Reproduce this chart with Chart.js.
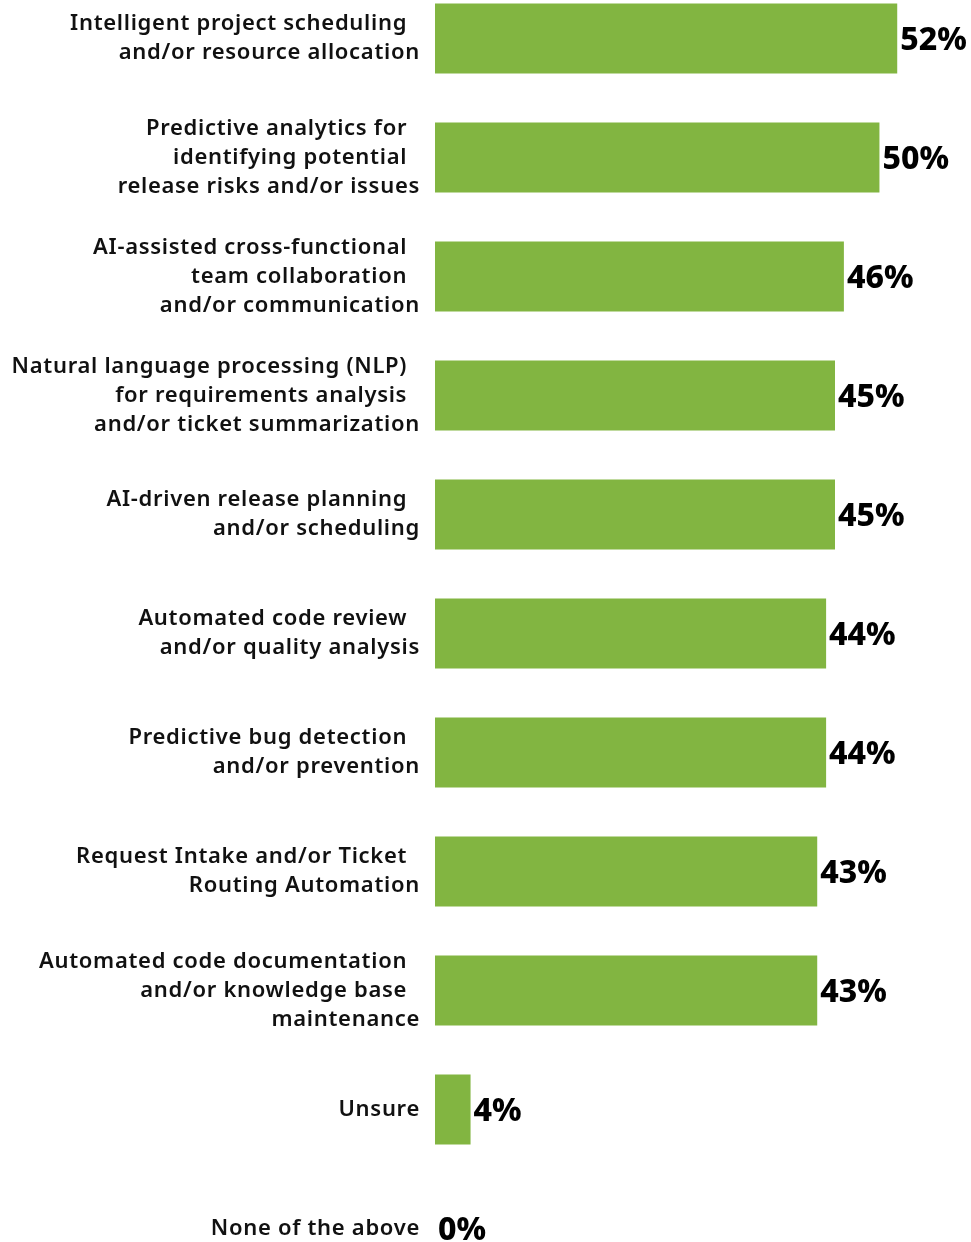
<!DOCTYPE html>
<html>
<head>
<meta charset="utf-8">
<script src="https://cdn.jsdelivr.net/npm/chart.js@4"></script>
<style>
  html, body { margin: 0; padding: 0; background: #fff; overflow: hidden; }
  body { width: 971px; height: 1242px; position: relative; }
  .chart-wrap { position: absolute; left: 0; top: -21px; width: 971px; height: 1309px; }
</style>
</head>
<body>
<div class="chart-wrap"><canvas id="chart"></canvas></div>
<script>
// labels: every line but the last carries trailing spaces, like the source layout
const categories = [
  ["Intelligent project scheduling  ", "and/or resource allocation"],
  ["Predictive analytics for  ", "identifying potential  ", "release risks and/or issues"],
  ["AI-assisted cross-functional  ", "team collaboration  ", "and/or communication"],
  ["Natural language processing (NLP)  ", "for requirements analysis  ", "and/or ticket summarization"],
  ["AI-driven release planning  ", "and/or scheduling"],
  ["Automated code review  ", "and/or quality analysis"],
  ["Predictive bug detection  ", "and/or prevention"],
  ["Request Intake and/or Ticket  ", "Routing Automation"],
  ["Automated code documentation  ", "and/or knowledge base  ", "maintenance"],
  "Unsure",
  "None of the above",
];
const values = [52, 50, 46, 45, 45, 44, 44, 43, 43, 4, 0];
const xMax = 60.3;

const green = "#82b541";
const fontFamily = "'Noto Sans', sans-serif";

const spacing = {
  id: "spacing",
  beforeDraw(chart) { chart.ctx.letterSpacing = "0.7px"; },
};

const valueLabels = {
  id: "valueLabels",
  afterDatasetsDraw(chart) {
    const ctx = chart.ctx;
    const meta = chart.getDatasetMeta(0);
    ctx.save();
    ctx.letterSpacing = "0px";
    ctx.fillStyle = "#000";
    ctx.font = `800 32px ${fontFamily}`;
    ctx.textAlign = "left";
    ctx.textBaseline = "middle";
    meta.data.forEach((bar, i) => {
      ctx.fillText(values[i] + "%", bar.x + 3, bar.y + 2);
    });
    ctx.restore();
  },
};

new Chart(document.getElementById("chart"), {
  type: "bar",
  data: {
    labels: categories,
    datasets: [{
      data: values,
      backgroundColor: green,
      borderWidth: 0,
      categoryPercentage: 0.59,
      barPercentage: 1,
    }],
  },
  options: {
    indexAxis: "y",
    responsive: true,
    maintainAspectRatio: false,
    animation: false,
    layout: { padding: 0 },
    plugins: { legend: { display: false }, tooltip: { enabled: false } },
    scales: {
      x: {
        display: false,
        min: 0,
        max: xMax,
      },
      y: {
        grid: { display: false, drawTicks: false },
        border: { display: false },
        afterFit: (scale) => {
          scale.width = 435;
          scale.paddingTop = 0;
          scale.paddingBottom = 0;
        },
        ticks: {
          color: "#111",
          padding: 15,
          font: { family: fontFamily, size: 22, weight: 600, lineHeight: 1.33 },
        },
      },
    },
  },
  plugins: [spacing, valueLabels],
});
</script>
</body>
</html>
